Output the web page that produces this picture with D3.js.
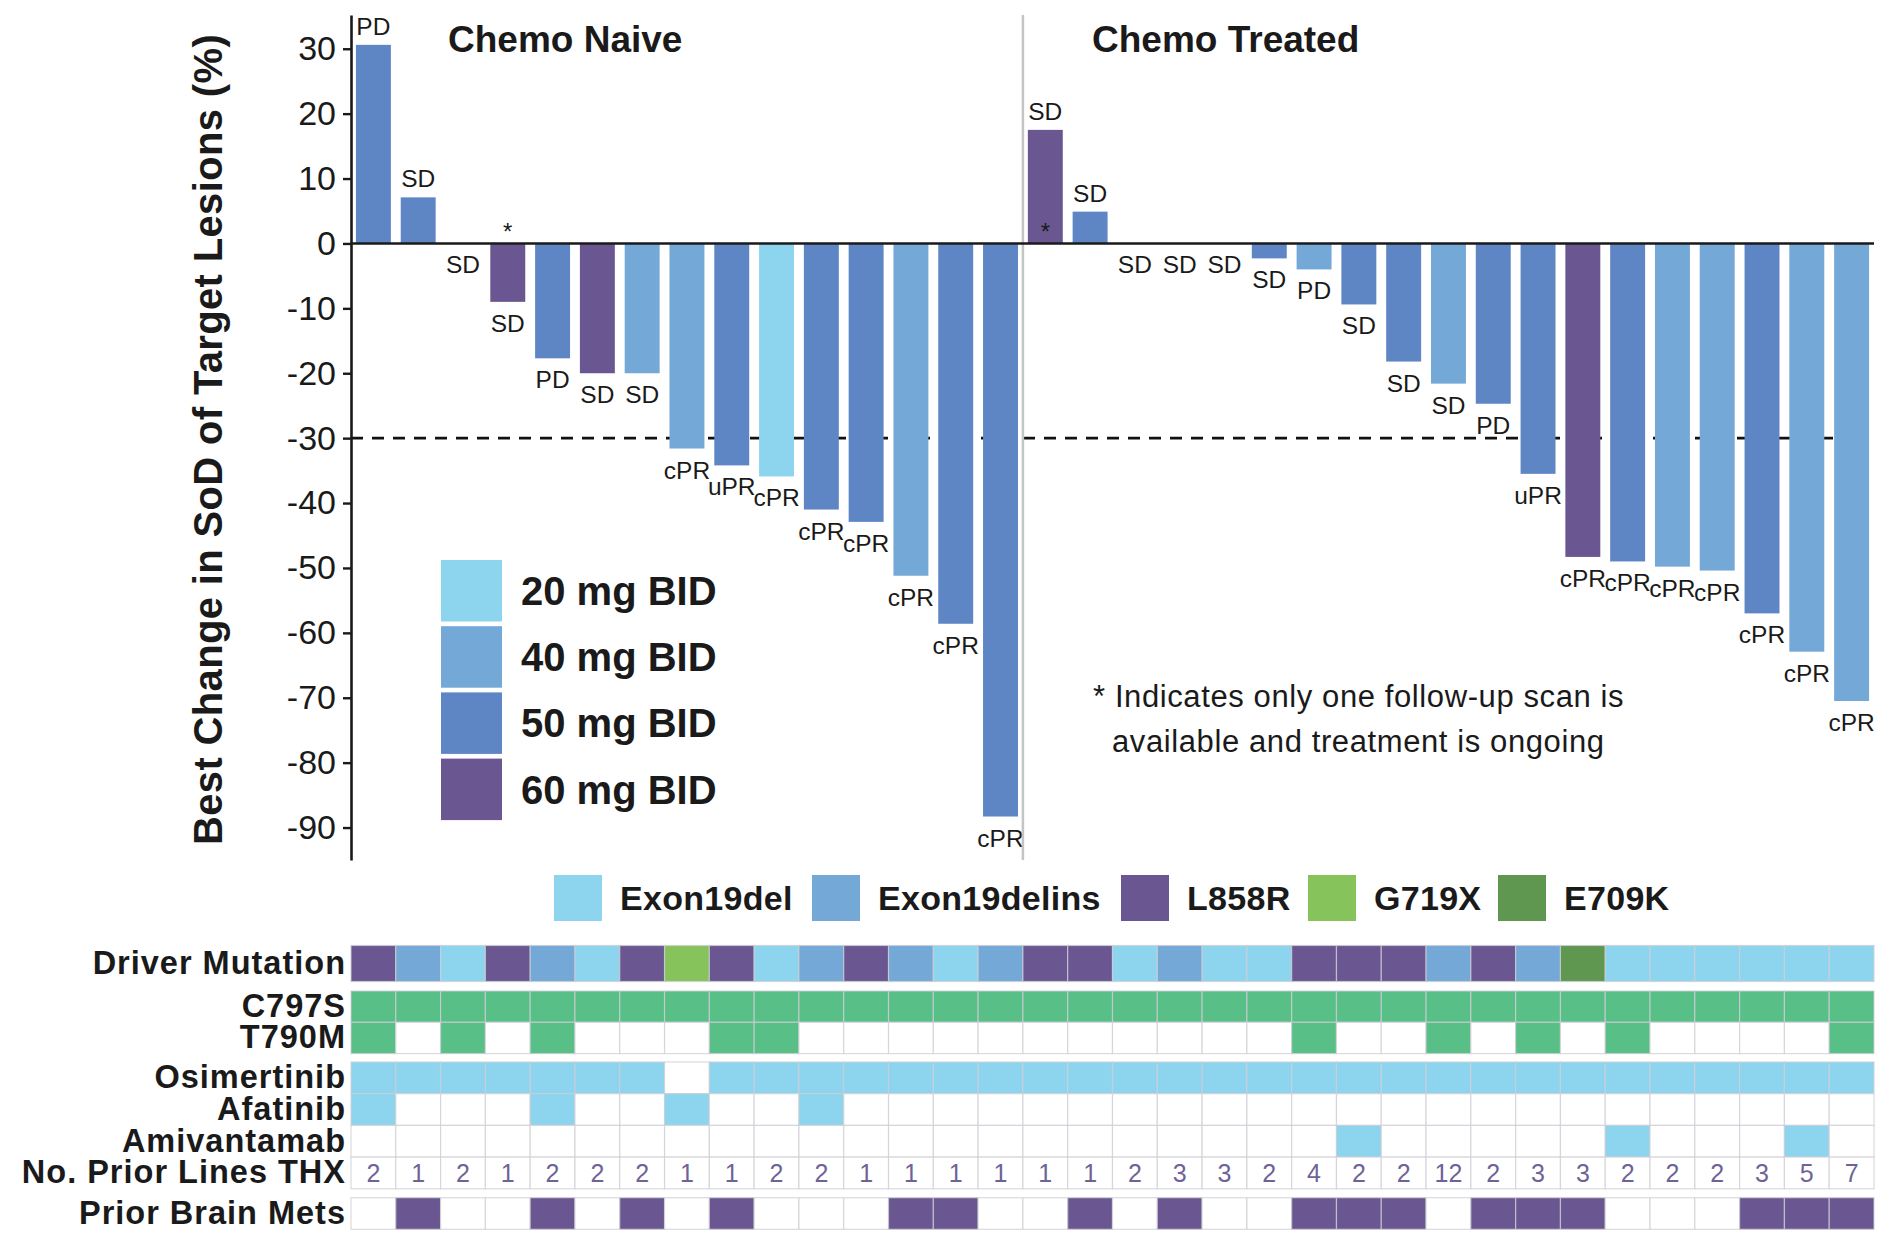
<!DOCTYPE html>
<html>
<head>
<meta charset="utf-8">
<script src="https://cdn.jsdelivr.net/npm/d3@7"></script>
<style>
  body { margin: 0; background: #fff; }
  svg { display: block; font-family: "Liberation Sans", Arial, sans-serif; }
</style>
</head>
<body>
<div id="wrapper"></div>
<script>
// ---- data (one entry per patient, left to right) ----
const bestChange = [30.6, 7.1, 0, -9, -17.7, -20, -20, -31.6, -34.2, -35.9, -41, -42.9, -51.2, -58.6, -88.3,
  17.5, 4.9, 0, 0, 0, -2.3, -4.0, -9.4, -18.2, -21.6, -24.7, -35.5, -48.3, -49, -49.8, -50.4, -57, -62.9, -70.5];
const response = ["PD", "SD", "SD", "SD", "PD", "SD", "SD", "cPR", "uPR", "cPR", "cPR", "cPR", "cPR", "cPR", "cPR",
  "SD", "SD", "SD", "SD", "SD", "SD", "PD", "SD", "SD", "SD", "PD", "uPR", "cPR", "cPR", "cPR", "cPR", "cPR", "cPR", "cPR"];
const dose = [50, 50, 50, 60, 50, 60, 40, 40, 50, 20, 50, 50, 40, 50, 50,
  60, 50, 50, 50, 50, 50, 40, 50, 50, 40, 50, 50, 60, 50, 40, 40, 50, 40, 40];
const singleScan = [4, 16]; // patients marked with *
const nChemoNaive = 15;

const doseLevels = [20, 40, 50, 60];
const doseLabels = ["20 mg BID", "40 mg BID", "50 mg BID", "60 mg BID"];

const mutations = ["Exon19del", "Exon19delins", "L858R", "G719X", "E709K"];
const driverMutation = ["L858R", "Exon19delins", "Exon19del", "L858R", "Exon19delins", "Exon19del", "L858R", "G719X",
  "L858R", "Exon19del", "Exon19delins", "L858R", "Exon19delins", "Exon19del", "Exon19delins", "L858R", "L858R",
  "Exon19del", "Exon19delins", "Exon19del", "Exon19del", "L858R", "L858R", "L858R", "Exon19delins", "L858R",
  "Exon19delins", "E709K", "Exon19del", "Exon19del", "Exon19del", "Exon19del", "Exon19del", "Exon19del"];
const c797s = [1, 1, 1, 1, 1, 1, 1, 1, 1, 1, 1, 1, 1, 1, 1, 1, 1, 1, 1, 1, 1, 1, 1, 1, 1, 1, 1, 1, 1, 1, 1, 1, 1, 1];
const t790m = [1, 0, 1, 0, 1, 0, 0, 0, 1, 1, 0, 0, 0, 0, 0, 0, 0, 0, 0, 0, 0, 1, 0, 0, 1, 0, 1, 0, 1, 0, 0, 0, 0, 1];
const osimertinib = [1, 1, 1, 1, 1, 1, 1, 0, 1, 1, 1, 1, 1, 1, 1, 1, 1, 1, 1, 1, 1, 1, 1, 1, 1, 1, 1, 1, 1, 1, 1, 1, 1, 1];
const afatinib = [1, 0, 0, 0, 1, 0, 0, 1, 0, 0, 1, 0, 0, 0, 0, 0, 0, 0, 0, 0, 0, 0, 0, 0, 0, 0, 0, 0, 0, 0, 0, 0, 0, 0];
const amivantamab = [0, 0, 0, 0, 0, 0, 0, 0, 0, 0, 0, 0, 0, 0, 0, 0, 0, 0, 0, 0, 0, 0, 1, 0, 0, 0, 0, 0, 1, 0, 0, 0, 1, 0];
const priorLines = [2, 1, 2, 1, 2, 2, 2, 1, 1, 2, 2, 1, 1, 1, 1, 1, 1, 2, 3, 3, 2, 4, 2, 2, 12, 2, 3, 3, 2, 2, 2, 3, 5, 7];
const brainMets = [0, 1, 0, 0, 1, 0, 1, 0, 1, 0, 0, 0, 1, 1, 0, 0, 1, 0, 1, 0, 0, 1, 1, 1, 0, 1, 1, 1, 0, 0, 0, 1, 1, 1];

const yTicks = [-90, -80, -70, -60, -50, -40, -30, -20, -10, 0, 10, 20, 30];

// ---- colours ----
const doseColor = d3.scaleOrdinal().domain(doseLevels).range(["#8dd5ef", "#73a8d7", "#5e86c5", "#6a5791"]);
const mutColor = d3.scaleOrdinal().domain(mutations).range(["#8dd5ef", "#73a8d7", "#6a5791", "#86c45b", "#5f9750"]);
const green = "#58bf87";
const lightBlue = "#8dd5ef";
const purple = "#6a5791";

const dimensions = {
  width: 1890,
  height: 1260,
  plotLeft: 351,
  plotRight: 1874,
  plotTop: 15,
  plotBottom: 860,
};

const svg = d3.select("#wrapper")
  .append("svg")
  .attr("width", dimensions.width)
  .attr("height", dimensions.height);

const idx = d3.range(bestChange.length);

// ---- scales ----
const xScale = d3.scaleBand()
  .domain(idx)
  .range([dimensions.plotLeft, dimensions.plotRight])
  .paddingInner(0.22)
  .paddingOuter(0.11);

const cellScale = d3.scaleBand()
  .domain(idx)
  .range([dimensions.plotLeft, dimensions.plotRight]);

const yScale = d3.scaleLinear()
  .domain([-95, 35.2])
  .range([dimensions.plotBottom, dimensions.plotTop]);

// dashed -30% reference line (behind bars)
svg.append("line")
  .attr("x1", dimensions.plotLeft).attr("x2", dimensions.plotRight - 30)
  .attr("y1", yScale(-30)).attr("y2", yScale(-30))
  .attr("stroke", "#111").attr("stroke-width", 2.6)
  .attr("stroke-dasharray", "12,9");

// bars
svg.append("g")
  .selectAll("rect")
  .data(idx)
  .join("rect")
  .attr("x", (i) => xScale(i))
  .attr("width", xScale.bandwidth())
  .attr("y", (i) => yScale(Math.max(0, bestChange[i])))
  .attr("height", (i) => Math.abs(yScale(bestChange[i]) - yScale(0)))
  .attr("fill", (i) => doseColor(dose[i]));

// response labels
svg.append("g")
  .selectAll("text")
  .data(idx)
  .join("text")
  .attr("x", (i) => xScale(i) + xScale.bandwidth() / 2)
  .attr("y", (i) => bestChange[i] > 0 ? yScale(bestChange[i]) - 10 : yScale(bestChange[i]) + 30)
  .attr("text-anchor", "middle")
  .attr("font-size", 24.5)
  .attr("fill", "#1a1a1a")
  .text((i) => response[i]);

// asterisks
svg.append("g")
  .selectAll("text")
  .data(singleScan)
  .join("text")
  .attr("x", (p) => xScale(p - 1) + xScale.bandwidth() / 2)
  .attr("y", yScale(0) - 3)
  .attr("text-anchor", "middle")
  .attr("font-size", 24)
  .attr("fill", "#1a1a1a")
  .text("*");

// divider between chemo naive / treated
const divX = cellScale(nChemoNaive);
svg.append("line")
  .attr("x1", divX).attr("x2", divX)
  .attr("y1", dimensions.plotTop).attr("y2", dimensions.plotBottom)
  .attr("stroke", "#c4c4c4").attr("stroke-width", 2.5);

// zero line
svg.append("line")
  .attr("x1", dimensions.plotLeft).attr("x2", dimensions.plotRight)
  .attr("y1", yScale(0)).attr("y2", yScale(0))
  .attr("stroke", "#1a1a1a").attr("stroke-width", 2.6);

// y axis (plain hyphen for negatives, like the original)
const yAxisGenerator = d3.axisLeft(yScale)
  .tickValues(yTicks)
  .tickFormat((d) => String(d))
  .tickSize(8)
  .tickSizeOuter(0)
  .tickPadding(7);

const yAxis = svg.append("g")
  .attr("transform", `translate(${dimensions.plotLeft},0)`)
  .call(yAxisGenerator);
yAxis.select(".domain").attr("stroke", "#1a1a1a").attr("stroke-width", 2.6);
yAxis.selectAll(".tick line").attr("stroke", "#1a1a1a").attr("stroke-width", 2.4);
yAxis.selectAll(".tick text")
  .attr("font-size", 34)
  .attr("font-family", "Liberation Sans, Arial, sans-serif")
  .attr("fill", "#1a1a1a");

svg.append("text")
  .attr("transform", `translate(222,${(dimensions.plotTop + dimensions.plotBottom) / 2 + 2}) rotate(-90)`)
  .attr("text-anchor", "middle")
  .attr("font-size", 40)
  .attr("letter-spacing", 0.35)
  .attr("font-weight", "bold")
  .attr("fill", "#1a1a1a")
  .text("Best Change in SoD of Target Lesions (%)");

// panel titles
svg.append("text").attr("x", 448).attr("y", 52)
  .attr("font-size", 37).attr("font-weight", "bold").attr("fill", "#1a1a1a")
  .text("Chemo Naive");
svg.append("text").attr("x", 1092).attr("y", 52)
  .attr("font-size", 37).attr("font-weight", "bold").attr("fill", "#1a1a1a")
  .text("Chemo Treated");

// dose legend
const doseLegend = svg.append("g").attr("transform", "translate(441,560)");
doseLegend.selectAll("rect")
  .data(doseLevels)
  .join("rect")
  .attr("x", 0)
  .attr("y", (d, i) => i * 66.2)
  .attr("width", 61)
  .attr("height", 61.5)
  .attr("fill", (d) => doseColor(d));
doseLegend.selectAll("text")
  .data(doseLabels)
  .join("text")
  .attr("x", 80)
  .attr("y", (d, i) => i * 66.2 + 45)
  .attr("font-size", 40)
  .attr("font-weight", "bold")
  .attr("fill", "#1a1a1a")
  .text((d) => d);

// footnote
svg.append("text").attr("x", 1093).attr("y", 707)
  .attr("font-size", 31).attr("letter-spacing", 0.6).attr("fill", "#1a1a1a")
  .text("* Indicates only one follow-up scan is");
svg.append("text").attr("x", 1112).attr("y", 752)
  .attr("font-size", 31).attr("letter-spacing", 0.6).attr("fill", "#1a1a1a")
  .text("available and treatment is ongoing");

// mutation legend
const mutLegendX = [554, 812, 1121, 1308, 1498];
const mutLegend = svg.append("g");
mutLegend.selectAll("rect")
  .data(mutations)
  .join("rect")
  .attr("x", (d, i) => mutLegendX[i])
  .attr("y", 875)
  .attr("width", 48)
  .attr("height", 46)
  .attr("fill", (d) => mutColor(d));
mutLegend.selectAll("text")
  .data(mutations)
  .join("text")
  .attr("x", (d, i) => mutLegendX[i] + 66)
  .attr("y", 910)
  .attr("font-size", 34)
  .attr("letter-spacing", 0.3)
  .attr("font-weight", "bold")
  .attr("fill", "#1a1a1a")
  .text((d) => d);

// ---- annotation table ----
const tableRows = [
  { label: "Driver Mutation", y: 945.5, h: 36, fill: (i) => mutColor(driverMutation[i]) },
  { label: "C797S", y: 991, h: 31.3, fill: (i) => c797s[i] ? green : "#fff" },
  { label: "T790M", y: 1022.3, h: 31.3, fill: (i) => t790m[i] ? green : "#fff" },
  { label: "Osimertinib", y: 1062, h: 31.7, fill: (i) => osimertinib[i] ? lightBlue : "#fff" },
  { label: "Afatinib", y: 1093.7, h: 31.7, fill: (i) => afatinib[i] ? lightBlue : "#fff" },
  { label: "Amivantamab", y: 1125.4, h: 31.7, fill: (i) => amivantamab[i] ? lightBlue : "#fff" },
  { label: "No. Prior Lines THX", y: 1157.1, h: 31.7, fill: () => "#fff", text: (i) => priorLines[i] },
  { label: "Prior Brain Mets", y: 1197.7, h: 31.6, fill: (i) => brainMets[i] ? purple : "#fff" },
];

const table = svg.append("g");
tableRows.forEach((row) => {
  const g = table.append("g");
  g.selectAll("rect")
    .data(idx)
    .join("rect")
    .attr("x", (i) => cellScale(i))
    .attr("y", row.y)
    .attr("width", cellScale.bandwidth())
    .attr("height", row.h)
    .attr("fill", row.fill)
    .attr("stroke", "rgba(205,205,212,0.75)")
    .attr("stroke-width", 1.2);
  if (row.text) {
    g.selectAll("text")
      .data(idx)
      .join("text")
      .attr("x", (i) => cellScale(i) + cellScale.bandwidth() / 2)
      .attr("y", row.y + row.h / 2 + 9)
      .attr("text-anchor", "middle")
      .attr("font-size", 25)
      .attr("fill", "#6e6398")
      .text(row.text);
  }
  table.append("text")
    .attr("x", 346)
    .attr("y", row.y + row.h / 2 + 10.5)
    .attr("text-anchor", "end")
    .attr("font-size", 32.5)
    .attr("letter-spacing", 1)
    .attr("font-weight", "bold")
    .attr("fill", "#1a1a1a")
    .text(row.label);
});
</script>
</body>
</html>
